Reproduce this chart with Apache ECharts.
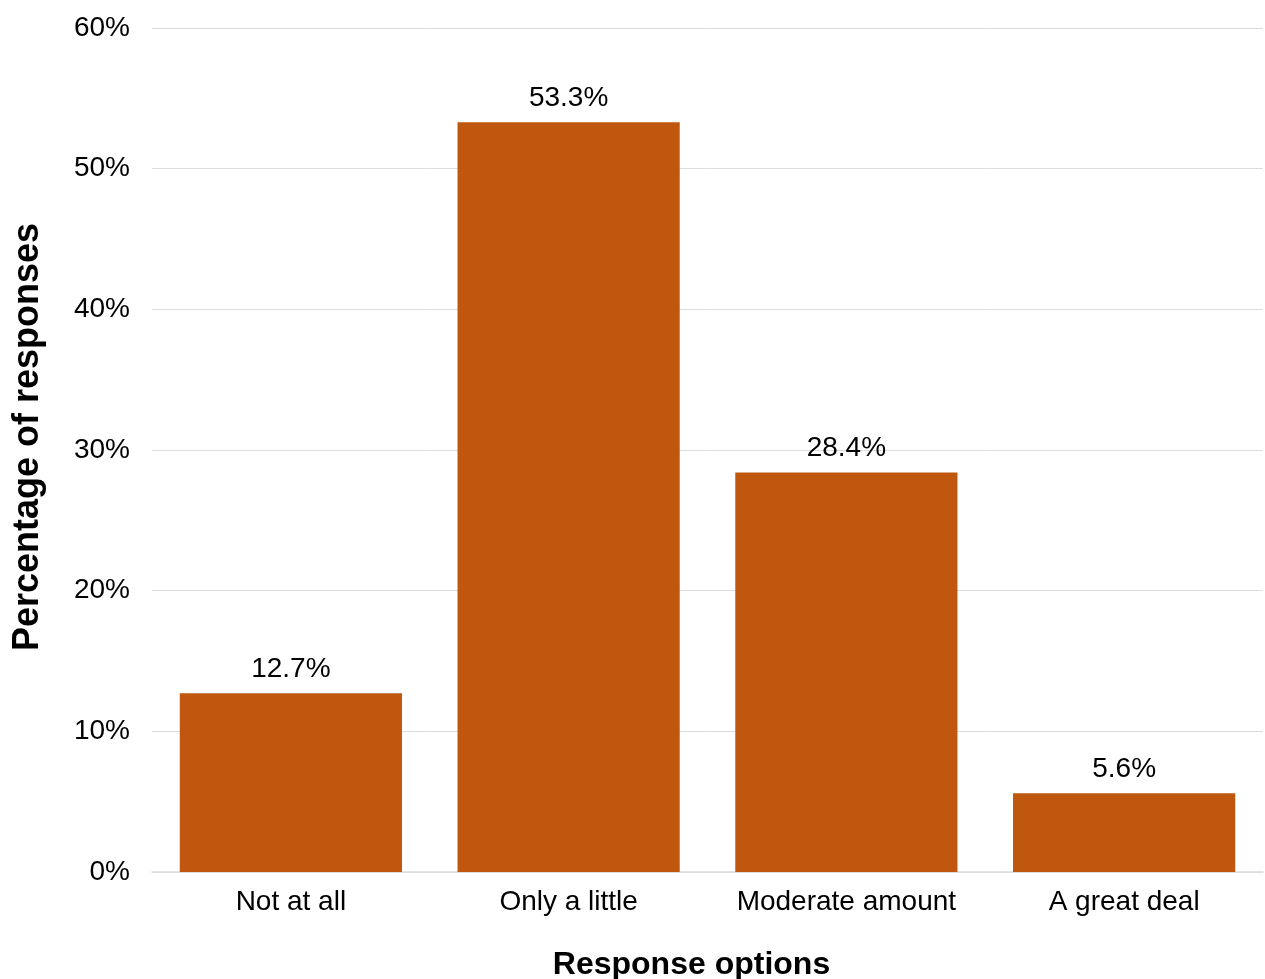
<!DOCTYPE html>
<html><head><meta charset="utf-8">
<script src="https://cdn.jsdelivr.net/npm/echarts@6/dist/echarts.min.js"></script>
<style>html,body{margin:0;padding:0;background:#fff}#c{width:1265px;height:979px}</style>
</head><body><div id="c"></div>
<script>
const categories = ["Not at all", "Only a little", "Moderate amount", "A great deal"];
const values = [12.7, 53.3, 28.4, 5.6];
const yTicks = [0, 10, 20, 30, 40, 50, 60];
const chart = echarts.init(document.getElementById('c'));
const font = "'Liberation Sans', Arial, Helvetica, sans-serif";
chart.setOption({
  animation: false,
  grid: {left: 152, right: 2, top: 28, bottom: 107, containLabel: false, outerBoundsMode: 'none'},
  xAxis: {
    type: 'category', data: categories,
    name: 'Response options', nameLocation: 'middle', nameGap: 77,
    nameTextStyle: {fontFamily: font, fontSize: 32, fontWeight: 'bold', color: '#000', padding: [0, 32, 0, 0]},
    axisLine: {lineStyle: {color: '#dcdcdc', width: 1.5}},
    axisTick: {show: false},
    axisLabel: {fontFamily: font, fontSize: 28, color: '#000', margin: 16, interval: 0, hideOverlap: false}
  },
  yAxis: {
    type: 'value', min: yTicks[0], max: yTicks[yTicks.length-1], interval: 10,
    name: 'Percentage of responses', nameLocation: 'middle', nameGap: 106,
    nameTextStyle: {fontFamily: font, fontSize: 36, fontWeight: 'bold', color: '#000', padding: [0, 0, 0, 26]},
    axisLabel: {fontFamily: font, fontSize: 28, color: '#000', margin: 22, formatter: v => v + '%'},
    splitLine: {lineStyle: {color: '#dcdcdc', width: 1}},
    axisLine: {show: false}, axisTick: {show: false}
  },
  series: [{
    type: 'bar', data: values, barCategoryGap: '20%',
    itemStyle: {color: '#C0570F'},
    label: {show: true, position: 'top', distance: 10, fontFamily: font, fontSize: 28, color: '#000',
      formatter: p => p.value.toFixed(1) + '%'}
  }]
});
</script></body></html>
